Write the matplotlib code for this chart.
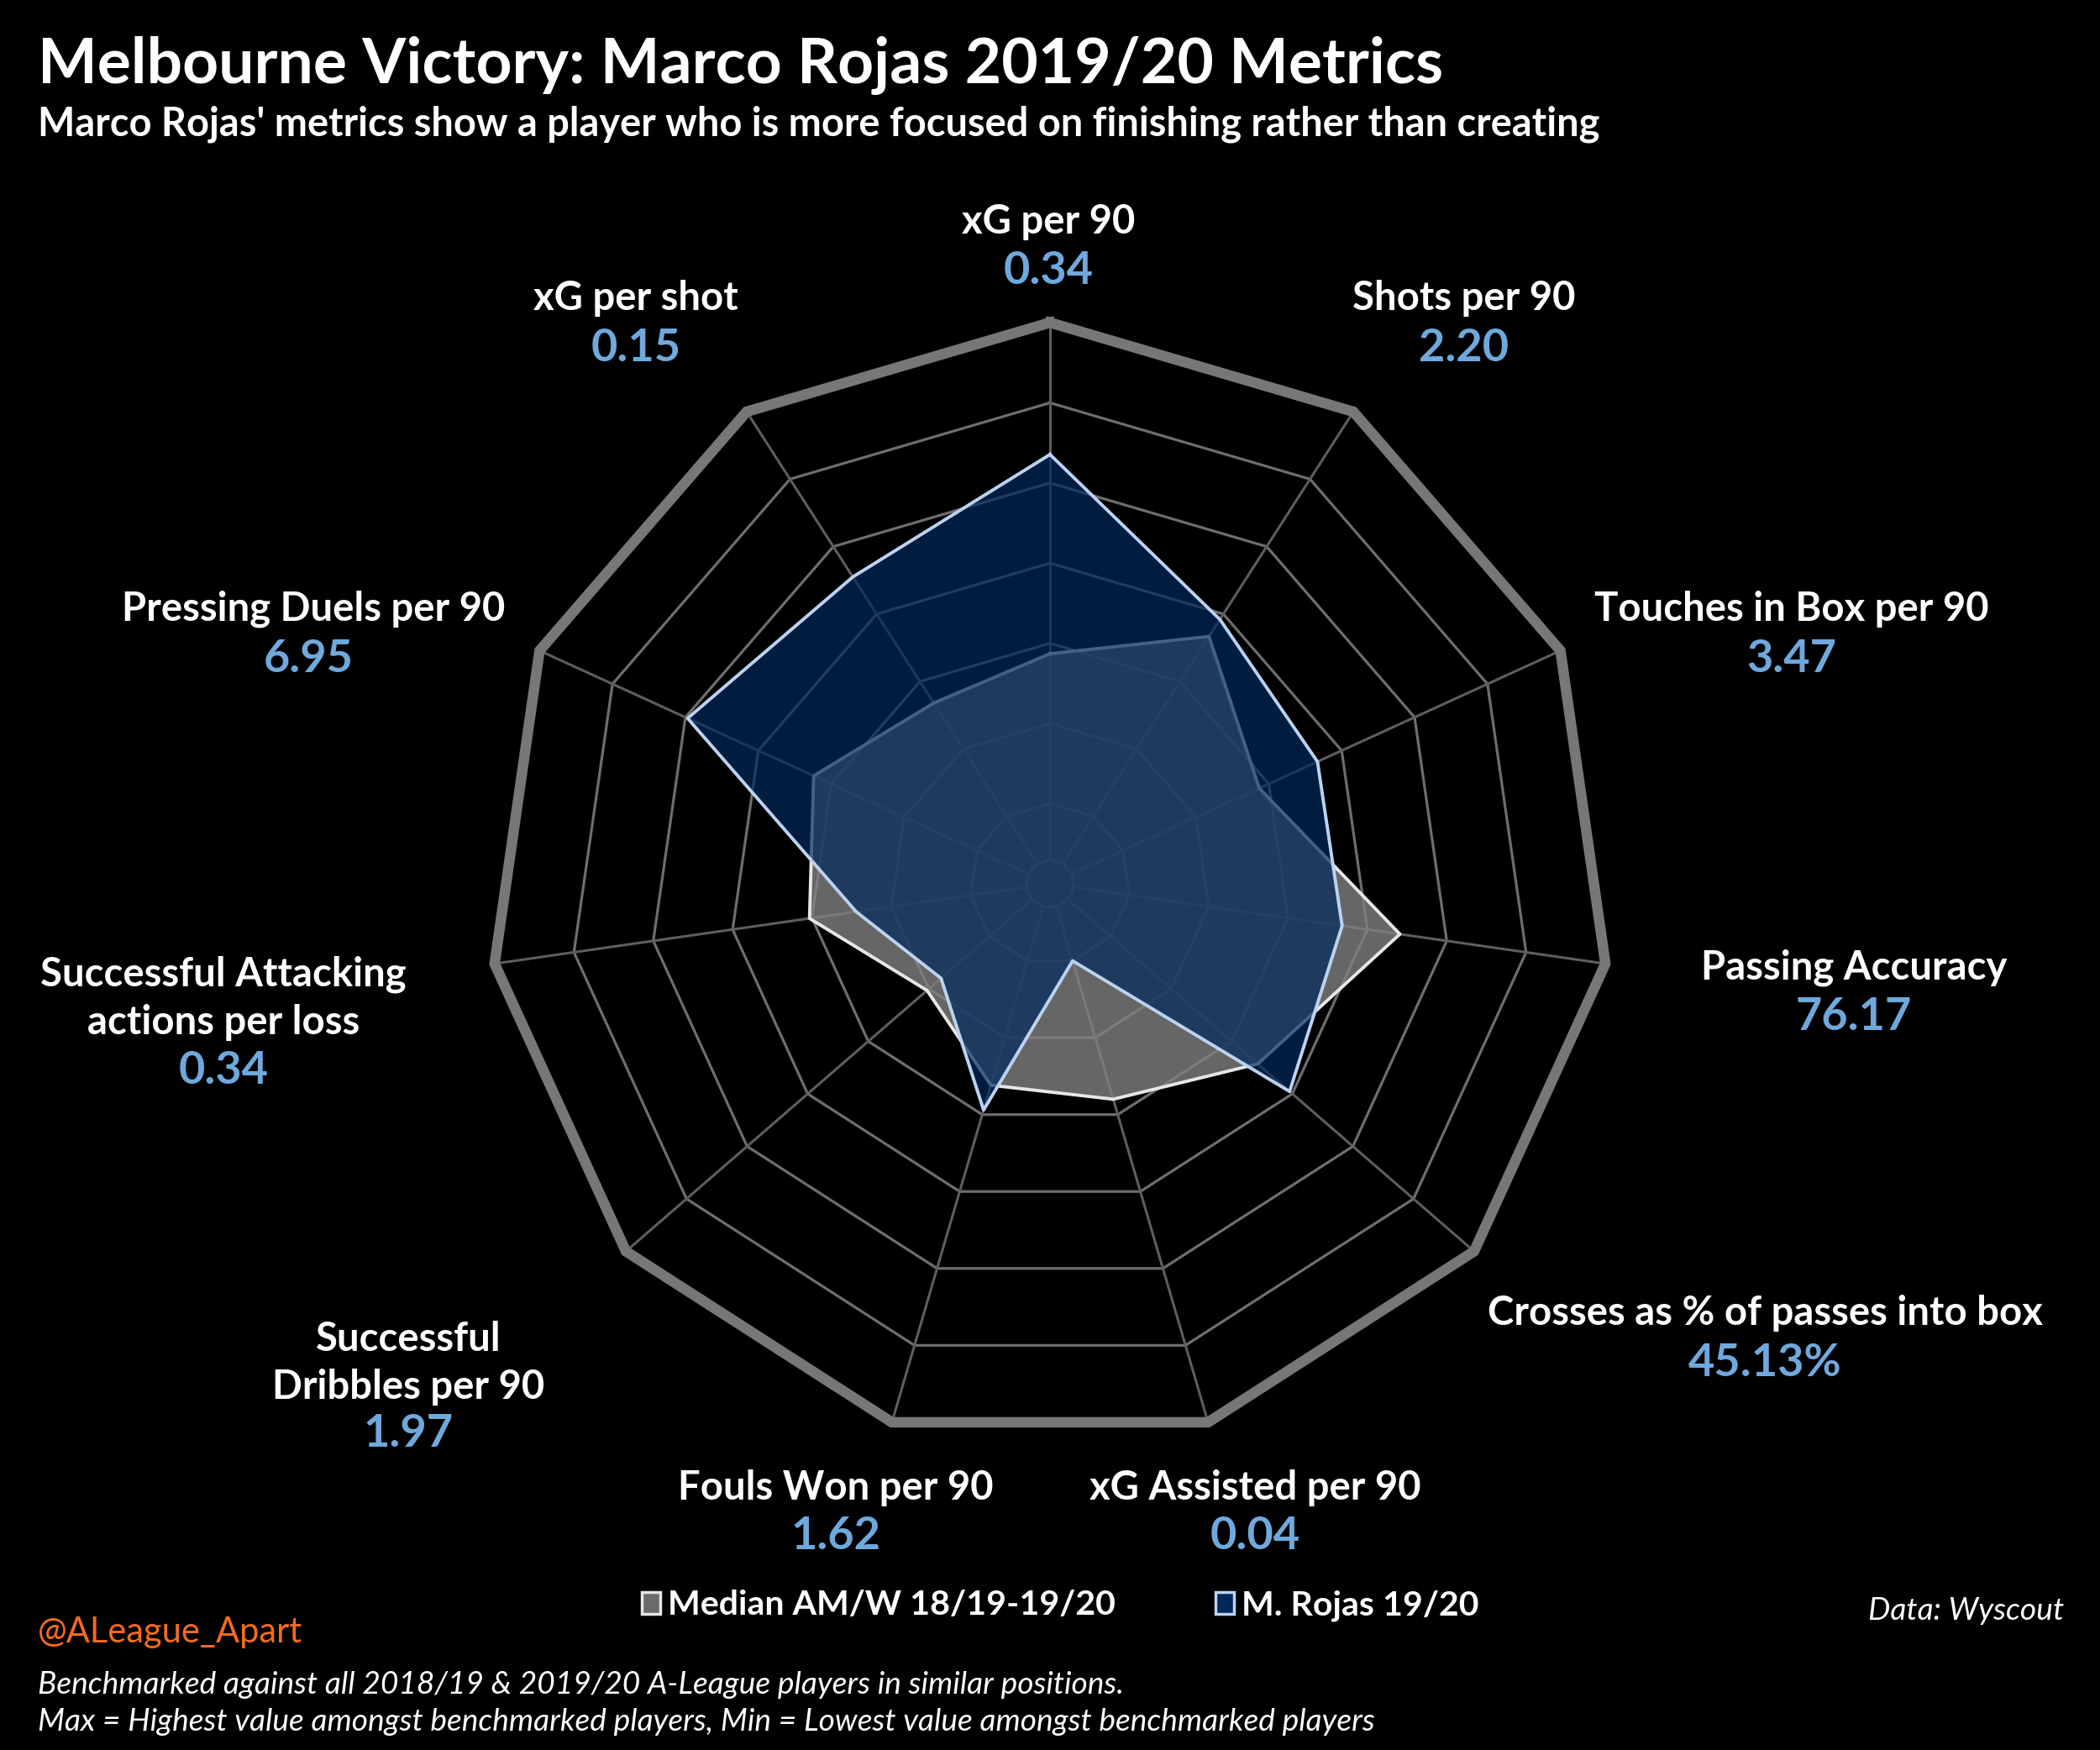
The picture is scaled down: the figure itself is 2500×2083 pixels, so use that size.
import numpy as np
import matplotlib
matplotlib.use("Agg")
import matplotlib.pyplot as plt
from matplotlib.patches import Patch

plt.rcParams['font.family'] = ['Lato', 'DejaVu Sans']

# metric names, clockwise from the top
categories = ["xG per 90", "Shots per 90", "Touches in Box per 90", "Passing Accuracy",
              "Crosses as % of passes into box", "xG Assisted per 90", "Fouls Won per 90",
              "Successful\nDribbles per 90", "Successful Attacking\nactions per loss",
              "Pressing Duels per 90", "xG per shot"]
rojas_values = ["0.34", "2.20", "3.47", "76.17", "45.13%", "0.04", "1.62", "1.97", "0.34", "6.95", "0.15"]

# scaled position between min (centre) and max (outer ring)
rojas_scaled = [0.765, 0.56, 0.524, 0.526, 0.565, 0.143, 0.42, 0.257, 0.349, 0.71, 0.65]
median_scaled = [0.41, 0.524, 0.41, 0.63, 0.49, 0.40, 0.374, 0.29, 0.433, 0.463, 0.383]

n_rings = 7

W, H = 2500, 2083
BG = "black"
BLUE_TXT = "#6fa8dc"

# label anchor points in pixels (x, y from top) : layout only
label_pos = [(1248, 264), (1743, 355), (2133, 725), (2207, 1152), (2101, 1563), (1494, 1771),
             (995, 1771), (486, 1594), (266, 1160), (373, 725), (757, 355)]
value_pos = [(1248, 323), (1743, 414), (2133, 784), (2207, 1210), (2101, 1623), (1494, 1829),
             (995, 1829), (486, 1707), (266, 1275), (367, 784), (757, 414)]
line_gap = 57


def fx(x):
    return x / W


def fy(y):
    return 1 - y / H


fig = plt.figure(figsize=(25, 20.83), dpi=100, facecolor=BG)

# radar axes: centre at (1250, 1052) px, outer ring radius 668 px
cx, cy, R = 1250, 1052, 668
half = 820
ax = fig.add_axes([fx(cx - half), fy(cy + half), 2 * half / W, 2 * half / H])
ax.set_facecolor(BG)
lim = half / R
ax.set_xlim(-lim, lim)
ax.set_ylim(-lim, lim)
ax.axis("off")

N = len(categories)
theta = np.pi / 2 - 2 * np.pi * np.arange(N) / N
theta_c = np.append(theta, theta[0])

# grid
for k in range(1, n_rings + 1):
    r = k / n_rings
    if k == n_rings:
        ax.plot(r * np.cos(theta_c), r * np.sin(theta_c), color="#777777", lw=9, zorder=6,
                solid_joinstyle="miter")
    else:
        ax.plot(r * np.cos(theta_c), r * np.sin(theta_c), color="#6e6e6e", lw=2.3, zorder=1)
r0 = 0.3 / n_rings
ax.plot(r0 * np.cos(theta_c), r0 * np.sin(theta_c), color="#6e6e6e", lw=2.3, zorder=1)
for t in theta:
    ax.plot([r0 * np.cos(t), np.cos(t)], [r0 * np.sin(t), np.sin(t)], color="#5e5e5e", lw=2.2, zorder=1)

# median polygon
med = np.append(median_scaled, median_scaled[0])
ax.fill(med * np.cos(theta_c), med * np.sin(theta_c), color="#808080", alpha=0.8, zorder=2, lw=0)
ax.plot(med * np.cos(theta_c), med * np.sin(theta_c), color="#e6e6e6", lw=2.8, zorder=2)

# player polygon
roj = np.append(rojas_scaled, rojas_scaled[0])
ax.fill(roj * np.cos(theta_c), roj * np.sin(theta_c), color="#00285b", alpha=0.7, zorder=3, lw=0)
ax.plot(roj * np.cos(theta_c), roj * np.sin(theta_c), color="#bcd2f0", lw=2.8, zorder=4)

# metric labels
for name, val, (lx, ly), (vx, vy) in zip(categories, rojas_values, label_pos, value_pos):
    for j, line in enumerate(name.split("\n")):
        fig.text(fx(lx), fy(ly + j * line_gap), line, color="white", fontsize=34,
                 fontweight="bold", ha="center", va="center")
    fig.text(fx(vx), fy(vy), val, color=BLUE_TXT, fontsize=39, fontweight="bold",
             ha="center", va="center")

# titles
fig.text(fx(45), fy(99), "Melbourne Victory: Marco Rojas 2019/20 Metrics", color="white",
         fontsize=54, fontweight="bold", ha="left", va="baseline")
fig.text(fx(45), fy(162), "Marco Rojas' metrics show a player who is more focused on finishing rather than creating",
         color="white", fontsize=33.8, fontweight="bold", ha="left", va="baseline")

# legend
handles = [Patch(facecolor="#6a6a6a", edgecolor="#e6e6e6", lw=2.5, label="Median AM/W 18/19-19/20"),
           Patch(facecolor="#00285b", edgecolor="#bcd2f0", lw=2.5, label="M. Rojas 19/20")]
leg = fig.legend(handles=handles, loc="center", bbox_to_anchor=(fx(1262), fy(1911)), ncol=2,
                 frameon=False, fontsize=29.6, handlelength=0.55, handleheight=0.6,
                 handletextpad=0.2, columnspacing=2.9, borderpad=0)
for t in leg.get_texts():
    t.set_color("white")
    t.set_fontweight("bold")

# footer
fig.text(fx(45), fy(1943), "@ALeague_Apart", color="#f26b21", fontsize=30, ha="left", va="center")
fig.text(fx(2457), fy(1917), "Data: Wyscout", color="white", fontsize=26.8, style="italic",
         ha="right", va="center")
fig.text(fx(45), fy(2006), "Benchmarked against all 2018/19 & 2019/20 A-League players in similar positions.",
         color="white", fontsize=26.7, style="italic", ha="left", va="center")
fig.text(fx(45), fy(2050), "Max = Highest value amongst benchmarked players, Min = Lowest value amongst benchmarked players",
         color="white", fontsize=26.7, style="italic", ha="left", va="center")

fig.savefig("out.png", dpi=100, facecolor=BG)
